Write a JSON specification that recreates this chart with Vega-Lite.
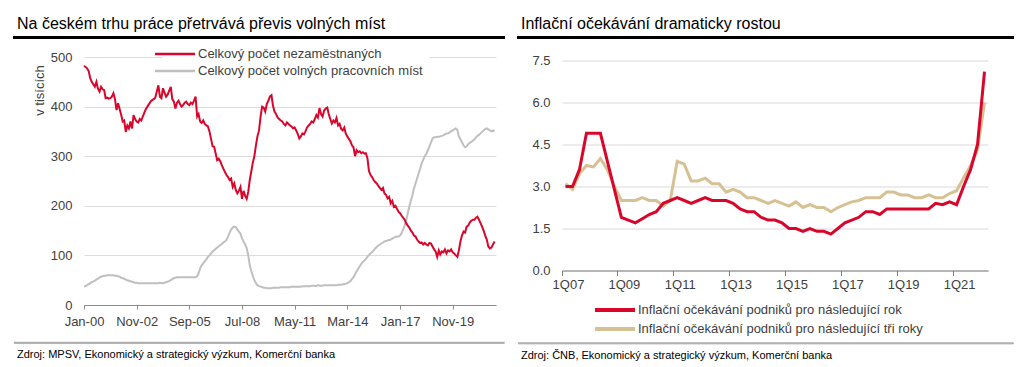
{
"$schema":"https://vega.github.io/schema/vega-lite/v6.json",
"background":"white",
"padding":{"left":13,"top":15,"right":5,"bottom":5},
"config":{"font":"Liberation Sans","view":{"stroke":null}},
"resolve":{"scale":{"color":"independent"},"legend":{"color":"independent"}},
"datasets":{
"lab":[
{"d":"2000-01","u":482,"v":37},{"d":"2000-02","u":480,"v":38},{"d":"2000-03","u":477,"v":40},{"d":"2000-04","u":472,"v":42},{"d":"2000-05","u":458,"v":44},{"d":"2000-06","u":450,"v":46},{"d":"2000-07","u":445,"v":47},{"d":"2000-08","u":440,"v":49},{"d":"2000-09","u":450,"v":51},{"d":"2000-10","u":436,"v":53},{"d":"2000-11","u":430,"v":55},{"d":"2000-12","u":440,"v":57},
{"d":"2001-01","u":435,"v":58},{"d":"2001-02","u":433,"v":59},{"d":"2001-03","u":417,"v":59},{"d":"2001-04","u":418,"v":60},{"d":"2001-05","u":416,"v":60},{"d":"2001-06","u":417,"v":60},{"d":"2001-07","u":420,"v":60},{"d":"2001-08","u":427,"v":60},{"d":"2001-09","u":415,"v":59},{"d":"2001-10","u":393,"v":59},{"d":"2001-11","u":407,"v":58},{"d":"2001-12","u":395,"v":57},
{"d":"2002-01","u":383,"v":55},{"d":"2002-02","u":370,"v":54},{"d":"2002-03","u":372,"v":53},{"d":"2002-04","u":349,"v":51},{"d":"2002-05","u":362,"v":50},{"d":"2002-06","u":356,"v":49},{"d":"2002-07","u":370,"v":48},{"d":"2002-08","u":356,"v":47},{"d":"2002-09","u":383,"v":46},{"d":"2002-10","u":375,"v":45},{"d":"2002-11","u":370,"v":45},{"d":"2002-12","u":368,"v":44},
{"d":"2003-01","u":375,"v":44},{"d":"2003-02","u":372,"v":44},{"d":"2003-03","u":380,"v":44},{"d":"2003-04","u":388,"v":44},{"d":"2003-05","u":395,"v":44},{"d":"2003-06","u":400,"v":44},{"d":"2003-07","u":405,"v":44},{"d":"2003-08","u":410,"v":44},{"d":"2003-09","u":413,"v":44},{"d":"2003-10","u":415,"v":44},{"d":"2003-11","u":418,"v":44},{"d":"2003-12","u":430,"v":44},
{"d":"2004-01","u":443,"v":44},{"d":"2004-02","u":420,"v":45},{"d":"2004-03","u":417,"v":44},{"d":"2004-04","u":437,"v":44},{"d":"2004-05","u":428,"v":45},{"d":"2004-06","u":420,"v":46},{"d":"2004-07","u":424,"v":47},{"d":"2004-08","u":432,"v":48},{"d":"2004-09","u":440,"v":50},{"d":"2004-10","u":415,"v":52},{"d":"2004-11","u":410,"v":54},{"d":"2004-12","u":396,"v":55},
{"d":"2005-01","u":408,"v":56},{"d":"2005-02","u":412,"v":56},{"d":"2005-03","u":405,"v":56},{"d":"2005-04","u":400,"v":56},{"d":"2005-05","u":403,"v":56},{"d":"2005-06","u":408,"v":56},{"d":"2005-07","u":410,"v":56},{"d":"2005-08","u":405,"v":56},{"d":"2005-09","u":403,"v":56},{"d":"2005-10","u":408,"v":56},{"d":"2005-11","u":405,"v":56},{"d":"2005-12","u":412,"v":56},
{"d":"2006-01","u":420,"v":56},{"d":"2006-02","u":380,"v":58},{"d":"2006-03","u":385,"v":64},{"d":"2006-04","u":370,"v":74},{"d":"2006-05","u":367,"v":80},{"d":"2006-06","u":372,"v":84},{"d":"2006-07","u":365,"v":88},{"d":"2006-08","u":362,"v":92},{"d":"2006-09","u":360,"v":97},{"d":"2006-10","u":350,"v":100},{"d":"2006-11","u":335,"v":104},{"d":"2006-12","u":320,"v":108},
{"d":"2007-01","u":319,"v":111},{"d":"2007-02","u":305,"v":113},{"d":"2007-03","u":292,"v":116},{"d":"2007-04","u":295,"v":118},{"d":"2007-05","u":290,"v":121},{"d":"2007-06","u":282,"v":123},{"d":"2007-07","u":275,"v":126},{"d":"2007-08","u":268,"v":128},{"d":"2007-09","u":262,"v":131},{"d":"2007-10","u":258,"v":138},{"d":"2007-11","u":252,"v":146},{"d":"2007-12","u":255,"v":152},
{"d":"2008-01","u":238,"v":156},{"d":"2008-02","u":245,"v":158},{"d":"2008-03","u":232,"v":157},{"d":"2008-04","u":225,"v":152},{"d":"2008-05","u":230,"v":148},{"d":"2008-06","u":238,"v":144},{"d":"2008-07","u":214,"v":135},{"d":"2008-08","u":230,"v":128},{"d":"2008-09","u":220,"v":122},{"d":"2008-10","u":214,"v":115},{"d":"2008-11","u":228,"v":100},{"d":"2008-12","u":252,"v":80},
{"d":"2009-01","u":270,"v":68},{"d":"2009-02","u":288,"v":58},{"d":"2009-03","u":300,"v":50},{"d":"2009-04","u":322,"v":44},{"d":"2009-05","u":340,"v":40},{"d":"2009-06","u":352,"v":38},{"d":"2009-07","u":380,"v":37},{"d":"2009-08","u":400,"v":36},{"d":"2009-09","u":398,"v":35},{"d":"2009-10","u":390,"v":35},{"d":"2009-11","u":405,"v":34},{"d":"2009-12","u":412,"v":34},
{"d":"2010-01","u":420,"v":34},{"d":"2010-02","u":423,"v":34},{"d":"2010-03","u":402,"v":35},{"d":"2010-04","u":390,"v":35},{"d":"2010-05","u":385,"v":35},{"d":"2010-06","u":378,"v":35},{"d":"2010-07","u":375,"v":35},{"d":"2010-08","u":372,"v":36},{"d":"2010-09","u":370,"v":36},{"d":"2010-10","u":365,"v":36},{"d":"2010-11","u":362,"v":36},{"d":"2010-12","u":368,"v":36},
{"d":"2011-01","u":365,"v":36},{"d":"2011-02","u":362,"v":36},{"d":"2011-03","u":360,"v":37},{"d":"2011-04","u":356,"v":37},{"d":"2011-05","u":358,"v":37},{"d":"2011-06","u":352,"v":37},{"d":"2011-07","u":345,"v":37},{"d":"2011-08","u":336,"v":37},{"d":"2011-09","u":340,"v":37},{"d":"2011-10","u":346,"v":38},{"d":"2011-11","u":344,"v":38},{"d":"2011-12","u":350,"v":38},
{"d":"2012-01","u":358,"v":38},{"d":"2012-02","u":362,"v":38},{"d":"2012-03","u":365,"v":38},{"d":"2012-04","u":370,"v":39},{"d":"2012-05","u":368,"v":39},{"d":"2012-06","u":375,"v":39},{"d":"2012-07","u":383,"v":38},{"d":"2012-08","u":378,"v":40},{"d":"2012-09","u":397,"v":39},{"d":"2012-10","u":385,"v":39},{"d":"2012-11","u":380,"v":39},{"d":"2012-12","u":392,"v":40},
{"d":"2013-01","u":396,"v":40},{"d":"2013-02","u":398,"v":40},{"d":"2013-03","u":385,"v":40},{"d":"2013-04","u":375,"v":40},{"d":"2013-05","u":366,"v":40},{"d":"2013-06","u":372,"v":40},{"d":"2013-07","u":368,"v":40},{"d":"2013-08","u":377,"v":40},{"d":"2013-09","u":362,"v":41},{"d":"2013-10","u":365,"v":41},{"d":"2013-11","u":355,"v":41},{"d":"2013-12","u":352,"v":42},
{"d":"2014-01","u":358,"v":42},{"d":"2014-02","u":345,"v":43},{"d":"2014-03","u":340,"v":44},{"d":"2014-04","u":335,"v":46},{"d":"2014-05","u":330,"v":48},{"d":"2014-06","u":322,"v":52},{"d":"2014-07","u":318,"v":56},{"d":"2014-08","u":300,"v":62},{"d":"2014-09","u":312,"v":68},{"d":"2014-10","u":308,"v":73},{"d":"2014-11","u":310,"v":78},{"d":"2014-12","u":306,"v":83},
{"d":"2015-01","u":308,"v":87},{"d":"2015-02","u":305,"v":90},{"d":"2015-03","u":306,"v":93},{"d":"2015-04","u":296,"v":97},{"d":"2015-05","u":270,"v":101},{"d":"2015-06","u":262,"v":104},{"d":"2015-07","u":258,"v":107},{"d":"2015-08","u":252,"v":110},{"d":"2015-09","u":248,"v":114},{"d":"2015-10","u":245,"v":117},{"d":"2015-11","u":240,"v":120},{"d":"2015-12","u":236,"v":122},
{"d":"2016-01","u":232,"v":124},{"d":"2016-02","u":236,"v":126},{"d":"2016-03","u":225,"v":128},{"d":"2016-04","u":222,"v":129},{"d":"2016-05","u":215,"v":130},{"d":"2016-06","u":218,"v":131},{"d":"2016-07","u":205,"v":132},{"d":"2016-08","u":210,"v":134},{"d":"2016-09","u":198,"v":136},{"d":"2016-10","u":200,"v":137},{"d":"2016-11","u":194,"v":138},{"d":"2016-12","u":188,"v":138},
{"d":"2017-01","u":185,"v":140},{"d":"2017-02","u":180,"v":145},{"d":"2017-03","u":176,"v":152},{"d":"2017-04","u":172,"v":160},{"d":"2017-05","u":165,"v":170},{"d":"2017-06","u":160,"v":185},{"d":"2017-07","u":156,"v":198},{"d":"2017-08","u":150,"v":210},{"d":"2017-09","u":146,"v":222},{"d":"2017-10","u":140,"v":235},{"d":"2017-11","u":138,"v":245},{"d":"2017-12","u":132,"v":255},
{"d":"2018-01","u":128,"v":265},{"d":"2018-02","u":125,"v":275},{"d":"2018-03","u":126,"v":285},{"d":"2018-04","u":122,"v":293},{"d":"2018-05","u":125,"v":300},{"d":"2018-06","u":122,"v":305},{"d":"2018-07","u":120,"v":312},{"d":"2018-08","u":125,"v":320},{"d":"2018-09","u":124,"v":328},{"d":"2018-10","u":118,"v":336},{"d":"2018-11","u":112,"v":338},{"d":"2018-12","u":108,"v":338},
{"d":"2019-01","u":97,"v":339},{"d":"2019-02","u":110,"v":339},{"d":"2019-03","u":102,"v":340},{"d":"2019-04","u":108,"v":341},{"d":"2019-05","u":106,"v":342},{"d":"2019-06","u":112,"v":344},{"d":"2019-07","u":104,"v":346},{"d":"2019-08","u":110,"v":346},{"d":"2019-09","u":108,"v":348},{"d":"2019-10","u":112,"v":350},{"d":"2019-11","u":106,"v":352},{"d":"2019-12","u":104,"v":354},
{"d":"2020-01","u":100,"v":356},{"d":"2020-02","u":97,"v":353},{"d":"2020-03","u":110,"v":340},{"d":"2020-04","u":128,"v":334},{"d":"2020-05","u":140,"v":328},{"d":"2020-06","u":148,"v":322},{"d":"2020-07","u":146,"v":318},{"d":"2020-08","u":158,"v":320},{"d":"2020-09","u":160,"v":324},{"d":"2020-10","u":166,"v":327},{"d":"2020-11","u":170,"v":329},{"d":"2020-12","u":172,"v":331},
{"d":"2021-01","u":172,"v":334},{"d":"2021-02","u":176,"v":338},{"d":"2021-03","u":178,"v":341},{"d":"2021-04","u":172,"v":343},{"d":"2021-05","u":165,"v":346},{"d":"2021-06","u":158,"v":349},{"d":"2021-07","u":150,"v":352},{"d":"2021-08","u":140,"v":355},{"d":"2021-09","u":132,"v":356},{"d":"2021-10","u":118,"v":354},{"d":"2021-11","u":114,"v":352},{"d":"2021-12","u":116,"v":350},
{"d":"2022-01","u":122,"v":352},{"d":"2022-02","u":128,"v":350}
],
"inf":[
{"q":"1Q07","a":3.0,"b":3.1},{"q":"2Q07","a":3.0,"b":2.9},{"q":"3Q07","a":3.6,"b":3.45},{"q":"4Q07","a":4.9,"b":3.75},
{"q":"1Q08","a":4.9,"b":3.7},{"q":"2Q08","a":4.9,"b":4.0},{"q":"3Q08","a":3.9,"b":3.6},{"q":"4Q08","a":2.9,"b":3.0},
{"q":"1Q09","a":1.9,"b":2.5},{"q":"2Q09","a":1.8,"b":2.5},{"q":"3Q09","a":1.7,"b":2.5},{"q":"4Q09","a":1.85,"b":2.6},
{"q":"1Q10","a":2.0,"b":2.5},{"q":"2Q10","a":2.1,"b":2.5},{"q":"3Q10","a":2.4,"b":2.3},{"q":"4Q10","a":2.5,"b":2.5},
{"q":"1Q11","a":2.6,"b":3.9},{"q":"2Q11","a":2.5,"b":3.8},{"q":"3Q11","a":2.4,"b":3.2},{"q":"4Q11","a":2.5,"b":3.2},
{"q":"1Q12","a":2.6,"b":3.3},{"q":"2Q12","a":2.5,"b":3.1},{"q":"3Q12","a":2.5,"b":3.1},{"q":"4Q12","a":2.5,"b":2.8},
{"q":"1Q13","a":2.4,"b":2.9},{"q":"2Q13","a":2.2,"b":2.8},{"q":"3Q13","a":2.1,"b":2.6},{"q":"4Q13","a":2.1,"b":2.6},
{"q":"1Q14","a":1.9,"b":2.5},{"q":"2Q14","a":1.8,"b":2.4},{"q":"3Q14","a":1.8,"b":2.5},{"q":"4Q14","a":1.7,"b":2.4},
{"q":"1Q15","a":1.5,"b":2.3},{"q":"2Q15","a":1.5,"b":2.45},{"q":"3Q15","a":1.4,"b":2.25},{"q":"4Q15","a":1.5,"b":2.35},
{"q":"1Q16","a":1.4,"b":2.25},{"q":"2Q16","a":1.4,"b":2.25},{"q":"3Q16","a":1.3,"b":2.1},{"q":"4Q16","a":1.5,"b":2.25},
{"q":"1Q17","a":1.7,"b":2.35},{"q":"2Q17","a":1.8,"b":2.45},{"q":"3Q17","a":1.9,"b":2.5},{"q":"4Q17","a":2.1,"b":2.6},
{"q":"1Q18","a":2.1,"b":2.6},{"q":"2Q18","a":2.0,"b":2.6},{"q":"3Q18","a":2.2,"b":2.8},{"q":"4Q18","a":2.2,"b":2.8},
{"q":"1Q19","a":2.2,"b":2.7},{"q":"2Q19","a":2.2,"b":2.7},{"q":"3Q19","a":2.2,"b":2.6},{"q":"4Q19","a":2.2,"b":2.6},
{"q":"1Q20","a":2.2,"b":2.7},{"q":"2Q20","a":2.4,"b":2.6},{"q":"3Q20","a":2.35,"b":2.6},{"q":"4Q20","a":2.45,"b":2.75},
{"q":"1Q21","a":2.35,"b":2.85},{"q":"2Q21","a":3.0,"b":3.3},{"q":"3Q21","a":3.6,"b":3.75},{"q":"4Q21","a":4.5,"b":4.3},
{"q":"1Q22","a":7.1,"b":6.0}
]
},
"spacing":12,
"hconcat":[
{"spacing":12,"vconcat":[
 {"width":490,"height":1,"data":{"values":[]},"mark":"point","view":{"stroke":"#000000","strokeWidth":2},
  "title":{"text":"Na českém trhu práce přetrvává převis volných míst","anchor":"start","fontSize":16,"fontWeight":"normal","color":"#000000","offset":5,"dx":3}},
 {"spacing":13,"vconcat":[
  {"spacing":0,"hconcat":[
   {"width":1,"height":1,"data":{"values":[]},"mark":"point","view":{"fill":"white","stroke":null}},
   {"width":412,"height":248,"data":{"name":"lab"},
   "transform":[{"fold":["v","u"],"as":["s","val"]}],
   "mark":{"type":"line","strokeWidth":2},
   "encoding":{
    "x":{"field":"d","type":"temporal","scale":{"type":"utc","nice":false,"domain":[{"year":2000,"month":1,"date":1,"utc":true},{"year":2022,"month":3,"date":1,"utc":true}]},
     "axis":{"title":null,"grid":false,"format":"%b-%y","labelOverlap":false,"labelFlush":false,"values":[{"year":2000,"month":1,"date":1,"utc":true},{"year":2002,"month":11,"date":1,"utc":true},{"year":2005,"month":9,"date":1,"utc":true},{"year":2008,"month":7,"date":1,"utc":true},{"year":2011,"month":5,"date":1,"utc":true},{"year":2014,"month":3,"date":1,"utc":true},{"year":2017,"month":1,"date":1,"utc":true},{"year":2019,"month":11,"date":1,"utc":true}],
      "domainColor":"#8c8c8c","tickColor":"#8c8c8c","tickSize":4,"labelPadding":6,"labelFontSize":13,"labelColor":"#404040"}},
    "y":{"field":"val","type":"quantitative","scale":{"domain":[0,500]},
     "axis":{"values":[0,100,200,300,400,500],"title":"v tisících","titleFontSize":13,"titleFontWeight":"normal","titleColor":"#404040","titleX":-41,"titleY":33,"titleAlign":"center","titleBaseline":"alphabetic","minExtent":69,"domain":false,"ticks":false,"labelPadding":12,"gridColor":"#dcdcdc","labelFontSize":13,"labelColor":"#404040"}},
    "color":{"field":"s","type":"nominal","scale":{"domain":["u","v"],"range":["#d9062c","#bfbfbf"]},
     "legend":{"orient":"none","legendX":148.5,"legendY":4.5,"title":null,"direction":"vertical","symbolType":"M-8,0H8","symbolSize":25,"symbolStrokeWidth":2.5,"labelFontSize":13,"labelColor":"#404040","labelOffset":16.5,"labelLimit":400,"rowPadding":3,"padding":6,"fillColor":"white",
      "labelExpr":"datum.label == 'u' ? 'Celkový počet nezaměstnaných' : 'Celkový počet volných pracovních míst'"}}
   }}
  ]},
  {"width":490,"height":1,"data":{"values":[]},"mark":"point","view":{"stroke":"#8c8c8c","strokeWidth":0.8},
   "title":{"text":"Zdroj: MPSV, Ekonomický a strategický výzkum, Komerční banka","orient":"bottom","anchor":"start","fontSize":11,"fontWeight":"normal","color":"#000000","offset":6,"dx":3}}
 ]}
]},
{"spacing":15.5,"vconcat":[
 {"width":495,"height":1,"data":{"values":[]},"mark":"point","view":{"stroke":"#000000","strokeWidth":2},
  "title":{"text":"Inflační očekávání dramaticky rostou","anchor":"start","fontSize":16,"fontWeight":"normal","color":"#000000","offset":5,"dx":3}},
 {"spacing":50,"vconcat":[
  {"spacing":0,"hconcat":[
   {"width":1,"height":1,"data":{"values":[]},"mark":"point","view":{"fill":"white","stroke":null}},
   {"width":426,"height":210,"data":{"name":"inf"},
   "transform":[{"fold":["b","a"],"as":["s","val"]}],
   "mark":{"type":"line","strokeWidth":3},
   "encoding":{
    "x":{"field":"q","type":"ordinal","sort":null,"bandPosition":0.5,"scale":{"type":"band","paddingInner":0,"paddingOuter":0},
     "axis":{"title":null,"grid":false,"labelAngle":0,"labelOverlap":false,"values":["1Q07","1Q09","1Q11","1Q13","1Q15","1Q17","1Q19","1Q21"],"bandPosition":0,"labelOffset":3,
      "domainColor":"#7f7f7f","tickColor":"#7f7f7f","tickSize":5,"labelPadding":3,"labelFontSize":13,"labelColor":"#404040"}},
    "y":{"field":"val","type":"quantitative","scale":{"domain":[0,7.5]},
     "axis":{"values":[0,1.5,3,4.5,6,7.5],"format":".1f","title":null,"domain":false,"ticks":false,"labelPadding":12,"minExtent":43,"gridColor":"#d9d9d9","labelFontSize":13,"labelColor":"#404040"}},
    "color":{"field":"s","type":"nominal","scale":{"domain":["a","b"],"range":["#d9062c","#d6c193"]},
     "legend":{"orient":"none","legendX":90.5,"legendY":266.5,"title":null,"direction":"vertical","symbolType":"M-8,0H8","symbolSize":25,"symbolStrokeWidth":4,"labelFontSize":13,"labelColor":"#404040","labelOffset":16.5,"labelLimit":400,"rowPadding":2,"padding":0,
      "labelExpr":"datum.label == 'a' ? 'Inflační očekávání podniků pro následující rok' : 'Inflační očekávání podniků pro následující tři roky'"}}
   }}
  ]},
  {"width":495,"height":1,"data":{"values":[]},"mark":"point","view":{"stroke":"#8c8c8c","strokeWidth":0.8},
   "title":{"text":"Zdroj: ČNB, Ekonomický a strategický výzkum, Komerční banka","orient":"bottom","anchor":"start","fontSize":11,"fontWeight":"normal","color":"#000000","offset":6,"dx":3}}
 ]}
]}
]
}
